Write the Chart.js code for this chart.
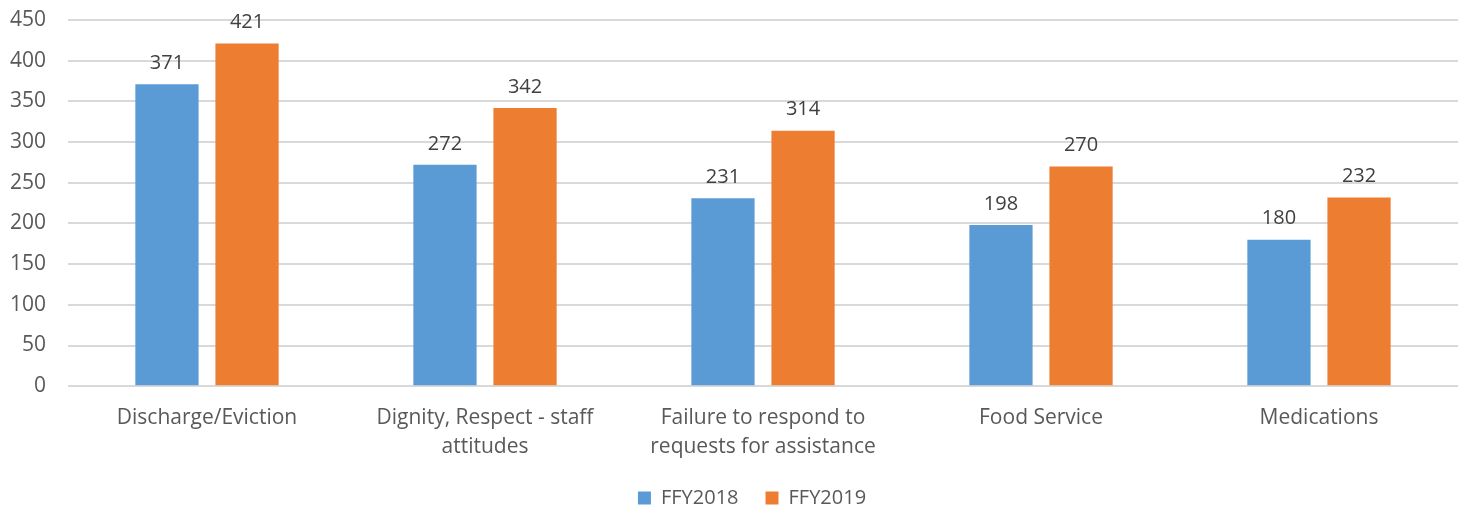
<!DOCTYPE html>
<html>
<head>
<meta charset="utf-8">
<script src="https://cdn.jsdelivr.net/npm/chart.js@4"></script>
<style>
  html, body { margin: 0; padding: 0; background: #fff; }
  #wrap { width: 1462px; height: 508px; }
</style>
</head>
<body>
<div id="wrap"><canvas id="chart"></canvas></div>
<script>
const categories = [
  'Discharge/Eviction',
  ['Dignity, Respect - staff', 'attitudes'],
  ['Failure to respond to', 'requests for assistance'],
  'Food Service',
  'Medications'
];
const seriesNames = ['FFY2018', 'FFY2019'];
const ffy2018 = [371, 272, 231, 198, 180];
const ffy2019 = [421, 342, 314, 270, 232];

const FONT = "'Open Sans', 'Noto Sans', sans-serif";
const TEXT = '#595959';

// draws the value above each bar
const barValues = {
  id: 'barValues',
  afterDatasetsDraw(chart) {
    const ctx = chart.ctx;
    ctx.save();
    ctx.font = '20px ' + FONT;
    ctx.fillStyle = '#404040';
    ctx.textAlign = 'center';
    ctx.textBaseline = 'bottom';
    chart.data.datasets.forEach((ds, i) => {
      chart.getDatasetMeta(i).data.forEach((bar, j) => {
        ctx.fillText(ds.data[j], bar.x, bar.y - 11);
      });
    });
    ctx.restore();
  }
};

// legend padding is wide for the item gap, so give back some of its height,
// then nudge it into place and let its clip box reach the canvas bottom
const legendShift = {
  id: 'legendShift',
  beforeLayout(chart) {
    const lg = chart.legend;
    if (lg && !lg._shrunk) {
      const fit = lg.fit;
      lg.fit = function () {
        fit.call(this);
        this.height -= 20;
      };
      lg._shrunk = true;
    }
  },
  afterLayout(chart) {
    const lg = chart.legend;
    lg.top -= 10;
    lg.bottom = chart.height;
    lg.left += 23;
    lg.right += 23;
  }
};

new Chart(document.getElementById('chart'), {
  type: 'bar',
  data: {
    labels: categories,
    datasets: [
      { label: seriesNames[0], data: ffy2018, backgroundColor: '#5B9BD5' },
      { label: seriesNames[1], data: ffy2019, backgroundColor: '#ED7D31' }
    ]
  },
  options: {
    responsive: true,
    maintainAspectRatio: false,
    animation: false,
    datasets: {
      bar: { categoryPercentage: 0.576, barPercentage: 0.79 }
    },
    layout: { padding: { top: 20, right: 4, left: 0, bottom: 0 } },
    scales: {
      x: {
        grid: { display: false },
        border: { display: false },
        ticks: {
          color: TEXT,
          font: { family: FONT, size: 21, lineHeight: 1.4 },
          padding: 9,
          maxRotation: 0,
          autoSkip: false
        }
      },
      y: {
        min: 0,
        max: 450,
        grid: { color: '#D9D9D9', lineWidth: 2, drawTicks: false },
        border: { display: false },
        ticks: {
          stepSize: 50,
          color: TEXT,
          font: { family: FONT, size: 21 },
          padding: 22
        },
        afterFit(scale) {
          scale.width = 68;
          scale.paddingTop = 0;
          scale.paddingBottom = 0;
        }
      }
    },
    plugins: {
      legend: {
        position: 'bottom',
        labels: {
          color: TEXT,
          font: { family: FONT, size: 20 },
          boxWidth: 13,
          boxHeight: 13,
          padding: 27
        }
      },
      tooltip: { enabled: false }
    }
  },
  plugins: [barValues, legendShift]
});
</script>
</body>
</html>
